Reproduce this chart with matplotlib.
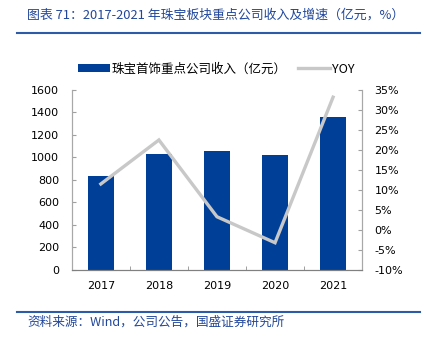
import matplotlib.pyplot as plt
from matplotlib.lines import Line2D
from matplotlib.patches import Patch
from matplotlib.ticker import FuncFormatter

plt.rcParams['font.family'] = ['DejaVu Sans', 'Noto Sans CJK SC']

# 数据
years = ['2017', '2018', '2019', '2020', '2021']
revenue = [838, 1028, 1055, 1025, 1357]      # 亿元
yoy = [11.5, 22.5, 3.3, -3.2, 33.2]          # %

BLUE = '#003F98'
GREY = '#C8C8C8'
TITLE_BLUE = '#22479A'
CJK = ['Noto Sans CJK SC', 'DejaVu Sans']

fig = plt.figure(figsize=(4.25, 3.37), dpi=100)
ax = fig.add_axes([0.169, 0.199, 0.683, 0.534])
ax2 = ax.twinx()

x = list(range(len(years)))
ax.bar(x, revenue, width=0.45, color=BLUE, zorder=2)
ax2.plot(x, yoy, color=GREY, lw=2.4, solid_joinstyle='miter', zorder=3)

ax.set_xlim(-0.5, len(years) - 0.5)
ax.set_ylim(0, 1600)
ax.set_yticks(range(0, 1601, 200))
ax2.set_ylim(-10, 35)
ax2.set_yticks(range(-10, 36, 5))
ax2.yaxis.set_major_formatter(FuncFormatter(lambda v, p: f'{int(v)}%'))

ax.set_xticks(x)
ax.set_xticklabels(years)
ax.set_xticks([i + 0.5 for i in range(-1, len(years))], minor=True)
ax.tick_params(axis='x', which='major', length=0, pad=8, labelsize=8)
ax.tick_params(axis='x', which='minor', direction='in', length=3, color='#909090')
ax.tick_params(axis='y', direction='in', length=3, pad=9, labelsize=8, color='#A0A0A0')
ax2.tick_params(axis='y', direction='in', length=3, pad=9, labelsize=8, color='#A0A0A0')

for a in (ax, ax2):
    a.spines['top'].set_visible(False)
    a.spines['left'].set_color('#A8A8A8')
    a.spines['right'].set_color('#A8A8A8')
    a.spines['bottom'].set_color('#808080')

# 图例
handles = [Patch(facecolor=BLUE, edgecolor='none'),
           Line2D([0], [0], color=GREY, lw=2.4)]
labels = ['珠宝首饰重点公司收入（亿元）', 'YOY']
fig.legend(handles, labels, loc='center', bbox_to_anchor=(0.508, 0.795), ncol=2,
           frameon=False, handlelength=2.6, handleheight=0.6, handletextpad=0.1,
           columnspacing=0.9, prop={'family': CJK, 'size': 9})

# 标题与来源
fig.text(0.064, 0.955, '图表 71：2017-2021 年珠宝板块重点公司收入及增速（亿元，%）',
         color=TITLE_BLUE, fontsize=9.3, family=CJK, style='italic',
         ha='left', va='center')
fig.add_artist(Line2D([0.04, 0.988], [0.902, 0.902], color='#2E5BA8', lw=1.5))
fig.add_artist(Line2D([0.04, 0.988], [0.075, 0.075], color='#2E5BA8', lw=1.5))
fig.text(0.064, 0.045, '资料来源：Wind，公司公告，国盛证券研究所',
         color=TITLE_BLUE, fontsize=9.1, family=CJK, style='italic',
         ha='left', va='center')

fig.savefig('out.png', dpi=100)
